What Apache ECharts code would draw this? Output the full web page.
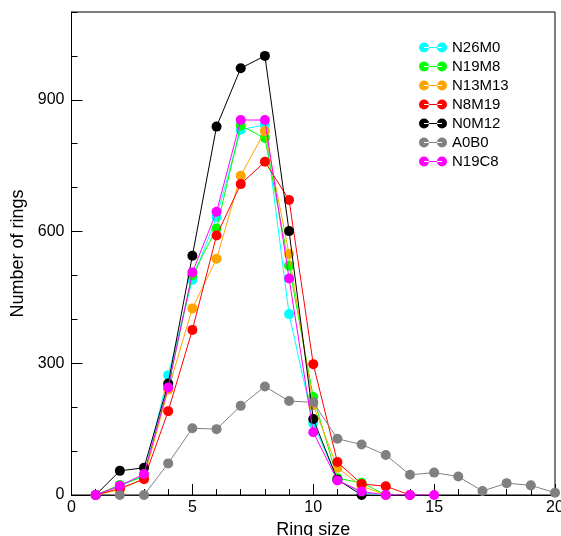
<!DOCTYPE html>
<html>
<head>
<meta charset="utf-8">
<script src="https://cdn.jsdelivr.net/npm/echarts@6/dist/echarts.min.js"></script>
<style>
html,body{margin:0;padding:0;background:#fff;}
#chart{width:561px;height:536px;}
</style>
</head>
<body>
<div id="chart"></div>
<script>
var ringSizes = [1,2,3,4,5,6,7,8,9,10,11,12,13,14,15,16,17,18,19,20];
var seriesNames = ['N26M0','N19M8','N13M13','N8M19','N0M12','A0B0','N19C8'];
var seriesColors = ['#00ffff','#00ff00','#ffa500','#ff0000','#000000','#808080','#ff00ff'];
var N26M0  = [0,20,45,273,490,633,832,843,412,163,35,5,0];
var N19M8  = [0,23,42,250,500,607,841,813,522,223,38,28,0];
var N13M13 = [0,12,38,240,425,538,727,829,549,205,62,20,0];
var N8M19  = [0,15,36,191,376,591,708,759,672,298,75,25,20,0];
var N0M12  = [0,55,62,254,545,839,972,1000,601,173,35,0];
var A0B0   = [0,0,0,72,152,150,203,247,214,211,128,115,91,46,51,42,9,27,22,5];
var N19C8  = [0,21,48,245,507,645,854,854,493,143,33,8,0,0,0];
var xTicks = [0,5,10,15,20];
var yTicks = [0,300,600,900];

var allValues = [N26M0,N19M8,N13M13,N8M19,N0M12,A0B0,N19C8];
var font = 'Liberation Sans, Arial, Helvetica, sans-serif';

var series = seriesNames.map(function(name, i){
  var vals = allValues[i];
  return {
    name: name,
    type: 'line',
    data: vals.map(function(v, j){ return [ringSizes[j], v]; }),
    symbol: 'circle',
    symbolSize: 10,
    showAllSymbol: true,
    lineStyle: {color: seriesColors[i], width: 1},
    itemStyle: {color: seriesColors[i]},
    emphasis: {disabled: true},
    z: 2 + i
  };
});

var legendIcon = 'path://M0,5a5,5 0 1,0 10,0a5,5 0 1,0 -10,0Z M18,5a5,5 0 1,0 10,0a5,5 0 1,0 -10,0Z M5,4.5H23V5.5H5Z';

var chart = echarts.init(document.getElementById('chart'));
chart.setOption({
  animation: false,
  backgroundColor: '#fff',
  grid: {left: 71.5, right: 6, top: 12, bottom: 41, show: true, borderColor: '#000', borderWidth: 1, containLabel: false, outerBoundsMode: 'none'},
  legend: {
    orient: 'vertical',
    left: 419,
    top: 40,
    padding: 0,
    itemGap: 4,
    itemWidth: 28,
    itemHeight: 10,
    icon: legendIcon,
    data: seriesNames,
    textStyle: {fontFamily: font, fontSize: 15, color: '#000'},
    selectedMode: false
  },
  xAxis: {
    type: 'value',
    min: xTicks[0],
    max: xTicks[xTicks.length-1],
    interval: xTicks[1]-xTicks[0],
    name: 'Ring size',
    nameLocation: 'middle',
    nameGap: 24,
    nameTextStyle: {fontFamily: font, fontSize: 18, color: '#000'},
    axisLine: {show: true, lineStyle: {color: '#000', width: 1}},
    axisTick: {show: true, inside: true, length: 11, lineStyle: {color: '#000'}},
    minorTick: {show: true, splitNumber: 5, length: 6, lineStyle: {color: '#000'}},
    axisLabel: {fontFamily: font, fontSize: 16, color: '#000', margin: 5},
    splitLine: {show: false},
    minorSplitLine: {show: false}
  },
  yAxis: [{
    type: 'value',
    min: 0,
    max: 1100,
    interval: yTicks[1]-yTicks[0],
    position: 'left',
    name: 'Number of rings',
    nameLocation: 'middle',
    nameGap: 37,
    nameTextStyle: {fontFamily: font, fontSize: 18, color: '#000'},
    axisLine: {show: true, lineStyle: {color: '#000', width: 1}},
    axisTick: {show: true, inside: true, length: 11, lineStyle: {color: '#000'}},
    axisLabel: {fontFamily: font, fontSize: 16, color: '#000', margin: 7, showMaxLabel: false},
    splitLine: {show: false}
  },{
    type: 'value',
    min: 0,
    max: 1100,
    interval: 100,
    position: 'left',
    offset: 0,
    axisLine: {show: false},
    axisTick: {show: true, inside: true, length: 6, lineStyle: {color: '#000'}},
    axisLabel: {show: false},
    splitLine: {show: false}
  }],
  series: series
});
</script>
</body>
</html>
